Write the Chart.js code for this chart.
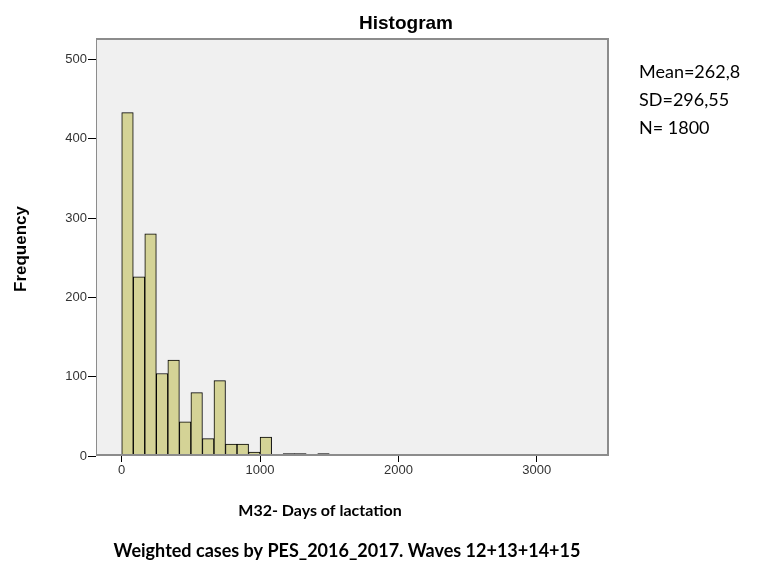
<!DOCTYPE html>
<html>
<head>
<meta charset="utf-8">
<script src="https://cdn.jsdelivr.net/npm/chart.js@4.4.1/dist/chart.umd.min.js"></script>
<style>
  html, body { margin: 0; padding: 0; background: #fff; }
  #box { position: relative; width: 757px; height: 561px; }
</style>
</head>
<body>
<div id="box"><canvas id="grafica" width="757" height="561"></canvas></div>
<script>
// datos del histograma
const anchoBin = 1000 / 12;
const frecuencias = [433, 226, 280, 104, 121, 43, 80, 22, 95, 15, 15, 5, 24, 0, 3, 3, 0, 3, 1, 0,
                     0, 1, 0, 0, 0, 0, 0, 0, 0, 0, 0, 0, 0, 0, 0, 0, 0, 0, 0, 1];
const ticksX = [0, 1000, 2000, 3000];
const ticksY = [0, 100, 200, 300, 400, 500];
const estadisticas = ['Mean=262,8', 'SD=296,55', 'N= 1800'];

const titulo = 'Histogram';
const tituloY = 'Frequency';
const tituloX = 'M32- Days of lactation';
const pie = 'Weighted cases by PES_2016_2017. Waves 12+13+14+15';

const puntos = frecuencias.map((f, i) => ({ x: i * anchoBin + anchoBin / 2, y: f }));

// fondo gris y marco del area de dibujo
const fondoPlot = {
  id: 'fondoPlot',
  beforeDraw(chart) {
    const { ctx, chartArea: a } = chart;
    ctx.save();
    ctx.fillStyle = '#f0f0f0';
    ctx.fillRect(a.left, a.top, a.right - a.left, a.bottom - a.top);
    ctx.restore();
  },
  afterDatasetsDraw(chart) {
    const { ctx, chartArea: a } = chart;
    ctx.save();
    ctx.strokeStyle = '#8c8c8c';
    ctx.lineWidth = 1;
    ctx.strokeRect(a.left + 0.5, a.top + 0.5, a.right - a.left - 1, a.bottom - a.top - 1);
    ctx.lineWidth = 2;
    ctx.beginPath();
    ctx.moveTo(a.left, a.top + 1);
    ctx.lineTo(a.right - 1, a.top + 1);
    ctx.lineTo(a.right - 1, a.bottom - 1);
    ctx.lineTo(a.left, a.bottom - 1);
    ctx.stroke();
    ctx.restore();
  }
};

// textos fuera del grafico
const textos = {
  id: 'textos',
  afterDraw(chart) {
    const ctx = chart.ctx;
    ctx.save();
    ctx.fillStyle = '#000';
    ctx.textAlign = 'center';
    ctx.textBaseline = 'middle';
    ctx.font = 'bold 19px "Liberation Sans", Arial, sans-serif';
    ctx.fillText(titulo, 406, 24);

    ctx.save();
    ctx.translate(21, 249);
    ctx.rotate(-Math.PI / 2);
    ctx.font = 'bold 17px "Liberation Sans", Arial, sans-serif';
    ctx.fillText(tituloY, 0, 0);
    ctx.restore();

    ctx.font = 'bold 16px Lato, sans-serif';
    ctx.fillText(tituloX, 320, 511);
    ctx.font = 'bold 18px Lato, sans-serif';
    ctx.fillText(pie, 347, 551);

    ctx.textAlign = 'left';
    ctx.font = '18px Lato, sans-serif';
    estadisticas.forEach((t, i) => ctx.fillText(t, 639, 72 + i * 28));
    ctx.restore();
  }
};

new Chart(document.getElementById('grafica'), {
  type: 'bar',
  data: {
    datasets: [{
      data: puntos,
      backgroundColor: '#d4d396',
      borderColor: '#000',
      borderWidth: 1,
      borderSkipped: 'start',
      barPercentage: 1,
      categoryPercentage: 1
    }]
  },
  options: {
    responsive: false,
    animation: false,
    layout: { padding: { left: 0, right: 148, top: 38, bottom: 0 } },
    plugins: { legend: { display: false }, tooltip: { enabled: false } },
    scales: {
      x: {
        type: 'linear',
        min: -186,
        max: 3522,
        offset: false,
        afterBuildTicks: s => { s.ticks = ticksX.map(v => ({ value: v })); },
        afterFit: s => { s.height = 105; },
        grid: { offset: false, drawOnChartArea: false, drawTicks: true, tickLength: 6, color: '#000' },
        border: { display: false },
        ticks: {
          color: '#333', font: { family: '"Liberation Sans", Arial', size: 13 }, padding: 1, maxRotation: 0,
          callback: v => String(v)
        }
      },
      y: {
        min: 0,
        max: 527,
        afterBuildTicks: s => { s.ticks = ticksY.map(v => ({ value: v })); },
        afterFit: s => { s.width = 96; },
        grid: { drawOnChartArea: false, drawTicks: true, tickLength: 8, color: '#000' },
        border: { display: false },
        ticks: { color: '#333', font: { family: '"Liberation Sans", Arial', size: 13 }, padding: 1 }
      }
    }
  },
  plugins: [fondoPlot, textos]
});
</script>
</body>
</html>
